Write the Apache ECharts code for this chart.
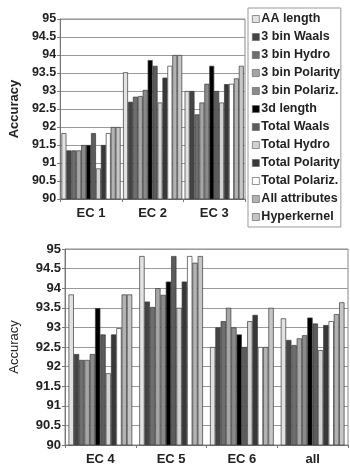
<!DOCTYPE html>
<html>
<head>
<meta charset="utf-8">
<script src="https://cdn.jsdelivr.net/npm/echarts@6/dist/echarts.min.js"></script>
<style>
html,body{margin:0;padding:0;background:#fff;}
#chart{width:350px;height:467px;}
</style>
</head>
<body>
<div id="chart"></div>
<script>
var seriesNames=['AA length','3 bin Waals','3 bin Hydro','3 bin Polarity','3 bin Polariz.','3d length','Total Waals','Total Hydro','Total Polarity','Total Polariz.','All attributes','Hyperkernel'];
var seriesColors=['#e2e2e2','#444444','#6e6e6e','#a6a6a6','#8a8a8a','#000000','#5c5c5c','#d2d2d2','#383838','#ffffff','#b2b2b2','#c6c6c6'];

var topCategories=['EC 1','EC 2','EC 3'];
var bottomCategories=['EC 4','EC 5','EC 6','all'];

// one row per series: [EC1, EC2, EC3]
var topValues=[
	[91.83,93.52,93.0],
	[91.35,92.7,93.0],
	[91.35,92.84,92.35],
	[91.35,92.86,92.68],
	[91.5,93.03,93.2],
	[91.5,93.86,93.7],
	[91.83,93.7,93.0],
	[90.85,92.68,92.68],
	[91.5,93.37,93.19],
	[91.83,93.7,93.2],
	[92.0,94.0,93.35],
	[92.0,94.0,93.7]
];
// one row per series: [EC4, EC5, EC6, all]
var bottomValues=[
	[93.84,94.82,92.5,93.23],
	[92.32,93.66,93.0,92.68],
	[92.17,93.52,93.16,92.55],
	[92.17,94.0,93.5,92.72],
	[92.32,93.83,93.0,92.8],
	[93.49,94.17,92.82,93.25],
	[92.82,94.82,92.5,93.1],
	[91.83,93.5,93.16,92.42],
	[92.82,94.17,93.32,93.06],
	[92.98,94.82,92.5,93.16],
	[93.84,94.65,92.5,93.34],
	[93.84,94.82,93.5,93.64]
];

var font='"Liberation Sans", Arial, sans-serif';

function yAxisOpt(gridIndex,gap,labelMargin,labelSize,nameWeight){
	return {
		gridIndex:gridIndex,
		type:'value',
		min:90,max:95,interval:0.5,
		name:'Accuracy',
		nameLocation:'middle',
		nameGap:gap,
		nameRotate:90,
		nameTextStyle:{fontFamily:font,fontSize:13,fontWeight:nameWeight,color:'#222'},
		axisLine:{show:true,lineStyle:{color:'#777',width:1}},
		axisTick:{show:true,length:3,lineStyle:{color:'#777'}},
		axisLabel:{margin:labelMargin,fontFamily:font,fontSize:labelSize,fontWeight:'bold',color:'#222'},
		splitLine:{show:true,lineStyle:{color:'#9a9a9a',width:1}}
	};
}

function xAxisOpt(gridIndex,cats){
	return {
		gridIndex:gridIndex,
		type:'category',
		data:cats,
		axisLine:{show:true,lineStyle:{color:'#777'}},
		axisTick:{show:true,length:3,lineStyle:{color:'#777'}},
		axisLabel:{margin:8,fontFamily:font,fontSize:13,fontWeight:'bold',color:'#222'}
	};
}

var series=[];
seriesNames.forEach(function(name,i){
	var style={color:seriesColors[i],borderColor:'#3a3a3a',borderWidth:0.7};
	series.push({
		name:name,type:'bar',xAxisIndex:0,yAxisIndex:0,
		data:topValues[i],barGap:'0%',barCategoryGap:'4%',
		itemStyle:style,animation:false
	});
	series.push({
		name:name,type:'bar',xAxisIndex:1,yAxisIndex:1,
		data:bottomValues[i],barGap:'0%',barCategoryGap:'10%',
		itemStyle:style,animation:false
	});
});

var myChart=echarts.init(document.getElementById('chart'));
myChart.setOption({
	backgroundColor:'#fff',
	animation:false,
	color:seriesColors,
	legend:{
		orient:'vertical',
		left:248,top:8,
		data:seriesNames,
		icon:'rect',
		itemWidth:7,itemHeight:7,
		itemGap:4,
		padding:[4,1,3,4],
		borderColor:'#999',borderWidth:1,
		backgroundColor:'#fff',
		itemStyle:{borderColor:'#666',borderWidth:0.7},
		textStyle:{fontFamily:font,fontSize:12.5,fontWeight:'bold',color:'#222',lineHeight:14,padding:[0,0,0,-3]},
		selectedMode:false
	},
	grid:[
		{left:58,right:105,top:19,bottom:268,show:true,borderColor:'#888',borderWidth:1},
		{left:63,right:2,top:249,bottom:22,show:true,borderColor:'#888',borderWidth:1}
	],
	xAxis:[xAxisOpt(0,topCategories),xAxisOpt(1,bottomCategories)],
	yAxis:[yAxisOpt(0,38,4,12.5,'bold'),yAxisOpt(1,44,4,13,'normal')],
	series:series
});
</script>
</body>
</html>
